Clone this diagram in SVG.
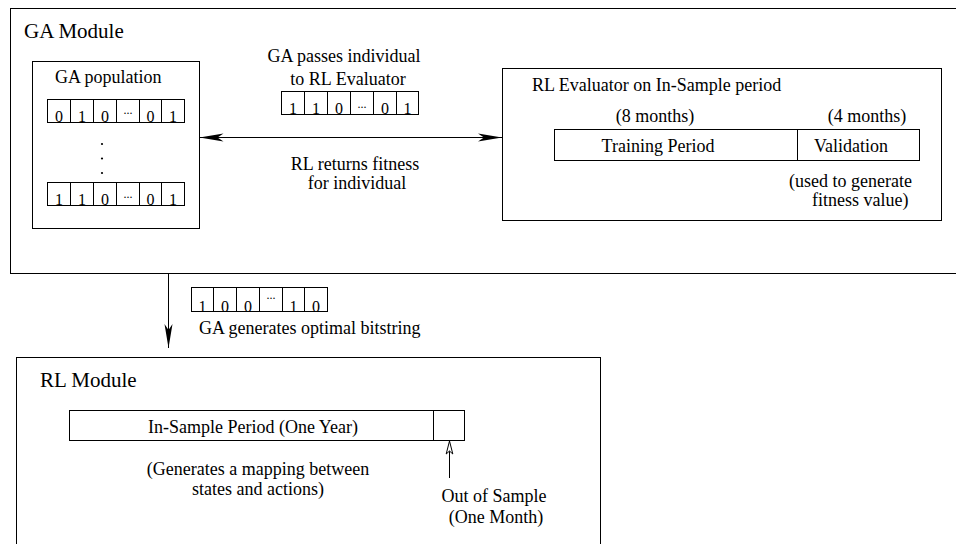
<svg xmlns="http://www.w3.org/2000/svg" width="956" height="544" viewBox="0 0 956 544">
<style>
  .box { fill: none; stroke: #000; stroke-width: 1; }
  .cell { fill: #fff; stroke: #000; stroke-width: 1; }
  .t { font-family: "Liberation Serif", "Times New Roman", serif; font-size: 18px; fill: #000; }
  .title { font-family: "Liberation Serif", "Times New Roman", serif; font-size: 21px; fill: #000; }
  .bit { font-family: "Liberation Serif", "Times New Roman", serif; font-size: 16px; fill: #000; text-anchor: middle; }
  .dots { font-family: "Liberation Serif", "Times New Roman", serif; font-size: 12px; fill: #000; text-anchor: middle; }
  .m { text-anchor: middle; }
  .line { fill: none; stroke: #000; stroke-width: 1; }
  .vdot { fill: #000; }
</style>
<defs>
  <marker id="fill-arrow" markerUnits="userSpaceOnUse" markerWidth="30" markerHeight="12" viewBox="-26 -6 28 12" refX="0" refY="0" orient="auto-start-reverse">
    <path d="M0,0 L-24,-4 L-18,0 L-24,4 Z" fill="#000"/>
  </marker>
  <marker id="open-arrow" markerUnits="userSpaceOnUse" markerWidth="18" markerHeight="10" viewBox="-16 -5 18 10" refX="0" refY="0" orient="auto">
    <path d="M0,0 L-13,-3.3 L-10,0 L-13,3.3 Z" fill="#fff" stroke="#000" stroke-width="1"/>
  </marker>
</defs>
<rect width="956" height="544" fill="#fff"/>

<g id="ga-module">
  <rect class="box" x="10.5" y="8.5" width="960" height="265"/>
  <text class="title" x="24" y="38">GA Module</text>
</g>

<g id="ga-population">
  <rect class="box" x="32.5" y="61.5" width="167" height="167"/>
  <text class="t" x="55" y="83">GA population</text>
  <g id="pop-row-1">
    <rect class="cell" x="47.5" y="99.5" width="23" height="23"/>
    <rect class="cell" x="70.5" y="99.5" width="23" height="23"/>
    <rect class="cell" x="93.5" y="99.5" width="23" height="23"/>
    <rect class="cell" x="116.5" y="99.5" width="23" height="23"/>
    <rect class="cell" x="139.5" y="99.5" width="22" height="23"/>
    <rect class="cell" x="161.5" y="99.5" width="23" height="23"/>
    <text class="bit" x="59" y="122">0</text>
    <text class="bit" x="82" y="122">1</text>
    <text class="bit" x="105" y="122">0</text>
    <text class="dots" x="128" y="114">...</text>
    <text class="bit" x="150.5" y="122">0</text>
    <text class="bit" x="173" y="122">1</text>
  </g>
  <circle class="vdot" cx="102" cy="144" r="1.1"/>
  <circle class="vdot" cx="102" cy="158.5" r="1.1"/>
  <circle class="vdot" cx="102" cy="173" r="1.1"/>
  <g id="pop-row-2">
    <rect class="cell" x="47.5" y="182.5" width="23" height="23"/>
    <rect class="cell" x="70.5" y="182.5" width="23" height="23"/>
    <rect class="cell" x="93.5" y="182.5" width="23" height="23"/>
    <rect class="cell" x="116.5" y="182.5" width="23" height="23"/>
    <rect class="cell" x="139.5" y="182.5" width="22" height="23"/>
    <rect class="cell" x="161.5" y="182.5" width="23" height="23"/>
    <text class="bit" x="59" y="205">1</text>
    <text class="bit" x="82" y="205">1</text>
    <text class="bit" x="105" y="205">0</text>
    <text class="dots" x="128" y="198">...</text>
    <text class="bit" x="150.5" y="205">0</text>
    <text class="bit" x="173" y="205">1</text>
  </g>
</g>

<g id="individual">
  <text class="t m" x="344" y="62">GA passes individual</text>
  <text class="t m" x="348" y="85">to RL Evaluator</text>
  <rect class="cell" x="281.5" y="91.5" width="23" height="23"/>
  <rect class="cell" x="304.5" y="91.5" width="23" height="23"/>
  <rect class="cell" x="327.5" y="91.5" width="23" height="23"/>
  <rect class="cell" x="350.5" y="91.5" width="23" height="23"/>
  <rect class="cell" x="373.5" y="91.5" width="23" height="23"/>
  <rect class="cell" x="396.5" y="91.5" width="22" height="23"/>
  <text class="bit" x="293" y="114">1</text>
  <text class="bit" x="316" y="114">1</text>
  <text class="bit" x="339" y="114">0</text>
  <text class="dots" x="362" y="108">...</text>
  <text class="bit" x="385" y="114">0</text>
  <text class="bit" x="407.5" y="114">1</text>
  <text class="t m" x="355" y="170">RL returns fitness</text>
  <text class="t m" x="357" y="189">for individual</text>
</g>

<g id="rl-evaluator">
  <rect class="box" x="502.5" y="68.5" width="439" height="152"/>
  <text class="t" x="532" y="91">RL Evaluator on In-Sample period</text>
  <text class="t m" x="655" y="122">(8 months)</text>
  <text class="t m" x="867" y="122">(4 months)</text>
  <rect class="box" x="554.5" y="129.5" width="365" height="31"/>
  <line class="line" x1="797.5" y1="129.5" x2="797.5" y2="160.5"/>
  <text class="t m" x="658" y="152">Training Period</text>
  <text class="t m" x="851" y="152">Validation</text>
  <text class="t" x="789" y="187">(used to generate</text>
  <text class="t" x="812" y="206">fitness value)</text>
</g>

<g id="optimal-bitstring">
  <rect class="cell" x="191.5" y="287.5" width="22" height="24"/>
  <rect class="cell" x="213.5" y="287.5" width="23" height="24"/>
  <rect class="cell" x="236.5" y="287.5" width="23" height="24"/>
  <rect class="cell" x="259.5" y="287.5" width="23" height="24"/>
  <rect class="cell" x="282.5" y="287.5" width="22" height="24"/>
  <rect class="cell" x="304.5" y="287.5" width="23" height="24"/>
  <text class="bit" x="202.5" y="311.5">1</text>
  <text class="bit" x="225" y="311.5">0</text>
  <text class="bit" x="248" y="311.5">0</text>
  <text class="dots" x="271" y="299">...</text>
  <text class="bit" x="293.5" y="311.5">1</text>
  <text class="bit" x="316" y="311.5">0</text>
  <text class="t" x="199" y="334">GA generates optimal bitstring</text>
</g>

<g id="rl-module">
  <rect class="box" x="16.5" y="357.5" width="584" height="200"/>
  <text class="title" x="40" y="387">RL Module</text>
  <rect class="box" x="69.5" y="410.5" width="395" height="30"/>
  <line class="line" x1="433.5" y1="410.5" x2="433.5" y2="440.5"/>
  <text class="t m" x="253" y="433">In-Sample Period (One Year)</text>
  <text class="t m" x="258" y="475">(Generates a mapping between</text>
  <text class="t m" x="258" y="495">states and actions)</text>
  <text class="t m" x="494" y="502">Out of Sample</text>
  <text class="t m" x="496" y="523">(One Month)</text>
</g>

<g id="connectors">
  <line class="line" x1="199.5" y1="137.5" x2="502" y2="137.5" marker-start="url(#fill-arrow)" marker-end="url(#fill-arrow)"/>
  <line class="line" x1="168.5" y1="273.5" x2="168.5" y2="348" marker-end="url(#fill-arrow)"/>
  <line class="line" x1="449.5" y1="478" x2="449.5" y2="441" marker-end="url(#open-arrow)"/>
</g>
</svg>
